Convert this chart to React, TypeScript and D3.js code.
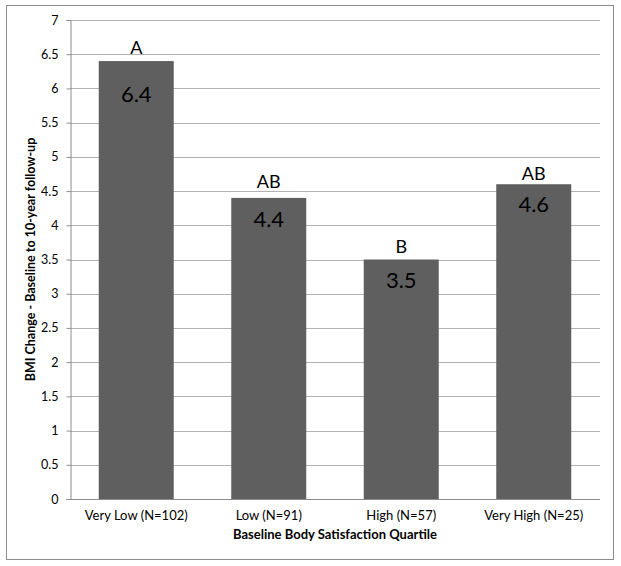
import { useEffect, useRef } from 'react';
import * as d3 from 'd3';

const categories = ['Very Low (N=102)', 'Low (N=91)', 'High (N=57)', 'Very High (N=25)'];
const values = [6.4, 4.4, 3.5, 4.6];
const groupLetters = ['A', 'AB', 'B', 'AB'];
const yTicks = [0, 0.5, 1, 1.5, 2, 2.5, 3, 3.5, 4, 4.5, 5, 5.5, 6, 6.5, 7];

// small manual nudges, the source labels were not placed uniformly
const valueDy = [41, 29, 28, 28];
const letterDy = [7, 10, 7, 4];

const FONT = 'Lato, sans-serif';

export default function App() {
  const svgRef = useRef<SVGSVGElement>(null);
  const width = 621;
  const height = 566;

  useEffect(() => {
    if (!svgRef.current) return;
    const svg = d3.select(svgRef.current);
    svg.selectAll('*').remove();

    const margin = { top: 20, right: 21, bottom: 67, left: 70 };

    // outer frame
    svg.append('rect')
      .attr('x', 6.5).attr('y', 5.5)
      .attr('width', 607).attr('height', 554)
      .attr('fill', '#fff')
      .attr('stroke', '#8c8c8c');

    const x = d3.scaleBand<string>()
      .domain(categories)
      .range([margin.left, width - margin.right])
      .paddingInner(0.434)
      .paddingOuter(0.217);

    const y = d3.scaleLinear()
      .domain([0, 7])
      .range([height - margin.bottom, margin.top]);

    // gridlines
    svg.append('g')
      .selectAll('line')
      .data(yTicks)
      .enter()
      .append('line')
      .attr('x1', margin.left)
      .attr('x2', width - margin.right)
      .attr('y1', d => Math.round(y(d)) + 0.5)
      .attr('y2', d => Math.round(y(d)) + 0.5)
      .attr('stroke', d => (d === 0 ? '#8c8c8c' : '#b3b3b3'))
      .attr('stroke-width', 1);

    // y axis
    const yAxis = svg.append('g')
      .attr('transform', `translate(${margin.left + 0.5},0)`)
      .call(d3.axisLeft(y).tickValues(yTicks).tickSize(4).tickPadding(8).tickFormat(d => String(d)));
    yAxis.select('.domain').attr('stroke', '#8c8c8c');
    yAxis.selectAll('.tick line').attr('stroke', '#8c8c8c');
    yAxis.selectAll('.tick text')
      .attr('fill', '#000')
      .attr('font-size', '12.5px')
      .style('font-family', FONT);

    // bars
    svg.append('g')
      .selectAll('rect')
      .data(values)
      .enter()
      .append('rect')
      .attr('x', (d, i) => x(categories[i])!)
      .attr('y', d => y(d))
      .attr('width', x.bandwidth())
      .attr('height', d => y(0) - y(d))
      .attr('fill', '#5f5f5f');

    // value labels inside bars
    svg.append('g')
      .selectAll('text')
      .data(values)
      .enter()
      .append('text')
      .attr('x', (d, i) => x(categories[i])! + x.bandwidth() / 2)
      .attr('y', (d, i) => y(d) + valueDy[i])
      .attr('text-anchor', 'middle')
      .attr('font-size', '22px')
      .attr('fill', '#000')
      .style('font-family', FONT)
      .text(d => d.toFixed(1));

    // group letters above bars
    svg.append('g')
      .selectAll('text')
      .data(groupLetters)
      .enter()
      .append('text')
      .attr('x', (d, i) => x(categories[i])! + x.bandwidth() / 2)
      .attr('y', (d, i) => y(values[i]) - letterDy[i])
      .attr('text-anchor', 'middle')
      .attr('font-size', '18px')
      .attr('fill', '#000')
      .style('font-family', FONT)
      .text(d => d);

    // category labels
    svg.append('g')
      .selectAll('text')
      .data(categories)
      .enter()
      .append('text')
      .attr('x', d => x(d)! + x.bandwidth() / 2)
      .attr('y', height - margin.bottom + 21)
      .attr('text-anchor', 'middle')
      .attr('font-size', '13px')
      .attr('fill', '#000')
      .style('font-family', FONT)
      .text(d => d);

    // x axis title
    svg.append('text')
      .attr('x', (margin.left + width - margin.right) / 2)
      .attr('y', height - margin.bottom + 40)
      .attr('text-anchor', 'middle')
      .attr('font-size', '13px')
      .attr('font-weight', '700')
      .attr('fill', '#000')
      .style('font-family', FONT)
      .text('Baseline Body Satisfaction Quartile');

    // y axis title
    svg.append('text')
      .attr('transform', `translate(35, ${(margin.top + height - margin.bottom) / 2}) rotate(-90)`)
      .attr('text-anchor', 'middle')
      .attr('font-size', '12.5px')
      .attr('font-weight', '700')
      .attr('fill', '#000')
      .style('font-family', FONT)
      .text('BMI Change - Baseline to 10-year follow-up');
  }, []);

  return (
    <svg
      ref={svgRef}
      width={width}
      height={height}
      style={{ position: 'absolute', left: 0, top: 0, display: 'block' }}
    />
  );
}
